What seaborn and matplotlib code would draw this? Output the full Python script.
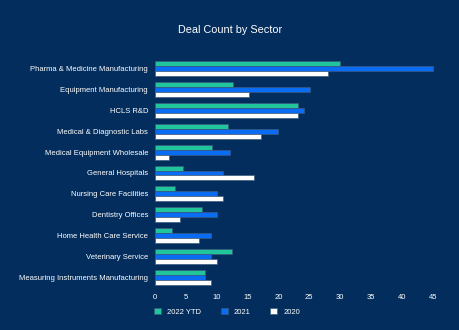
import matplotlib
matplotlib.use("Agg")
import matplotlib.pyplot as plt
import seaborn as sns
import pandas as pd

sectors = ["Pharma & Medicine Manufacturing", "Equipment Manufacturing", "HCLS R&D",
           "Medical & Diagnostic Labs", "Medical Equipment Wholesale", "General Hospitals",
           "Nursing Care Facilities", "Dentistry Offices", "Home Health Care Service",
           "Veterinary Service", "Measuring Instruments Manufacturing"]
ytd2022 = [30.0, 12.6, 23.1, 11.8, 9.2, 4.5, 3.2, 7.6, 2.7, 12.4, 8.1]
y2021 = [45.0, 25.1, 24.1, 20.0, 12.1, 11.1, 10.1, 10.1, 9.0, 9.0, 8.1]
y2020 = [28.1, 15.2, 23.1, 17.1, 2.2, 16.0, 11.1, 4.1, 7.1, 10.1, 9.0]
series = ["2022 YTD", "2021", "2020"]
xticks = [0, 5, 10, 15, 20, 25, 30, 35, 40, 45]

rows = []
for s, vals in zip(series, [ytd2022, y2021, y2020]):
    for c, v in zip(sectors, vals):
        rows.append({"Sector": c, "Series": s, "Count": v})
df = pd.DataFrame(rows)

bg = "#022d5d"
colors = ["#20c59b", "#0a6cf3", "#ffffff"]

sns.set_theme(style="white")
plt.rcParams['font.family'] = ['Liberation Sans', 'DejaVu Sans']

fig = plt.figure(figsize=(4.6, 3.3), dpi=100, facecolor=bg)
ax = fig.add_axes([155/460, 1 - 287.5/330, (445-155)/460, (287.5-58.5)/330])
ax.set_facecolor(bg)

sns.barplot(data=df, y="Sector", x="Count", hue="Series", order=sectors,
            hue_order=series, palette=colors, orient="h", width=0.72, saturation=1,
            edgecolor="#3a5a80", linewidth=0.5, ax=ax, legend=True)

ax.set_xlim(0, 47)
ax.set_xticks(xticks)
ax.set_xticklabels([str(t) for t in xticks])
ax.set_xlabel("")
ax.set_ylabel("")
for sp in ax.spines.values():
    sp.set_visible(False)
ax.tick_params(axis="x", colors="white", labelsize=5.5, length=0, pad=5)
ax.tick_params(axis="y", colors="white", labelsize=5.5, length=2, width=0.5, pad=3)
for lab in ax.get_yticklabels():
    lab.set_color("white")
for lab in ax.get_xticklabels():
    lab.set_color("white")
ax.tick_params(axis="y", color="#8090a8")

handles, labels = ax.get_legend_handles_labels()
ax.get_legend().remove()
leg = fig.legend(handles, labels, loc="center", bbox_to_anchor=(227/460, 1 - 312/330),
                 ncol=3, frameon=False, fontsize=5.5, handlelength=0.9, handleheight=0.9,
                 handletextpad=0.8, columnspacing=2.6, labelcolor="white")

fig.text(230/460, 1 - 30/330, "Deal Count by Sector", color="white", fontsize=7.8,
         ha="center", va="center")

fig.savefig("out.png", dpi=100, facecolor=bg)
